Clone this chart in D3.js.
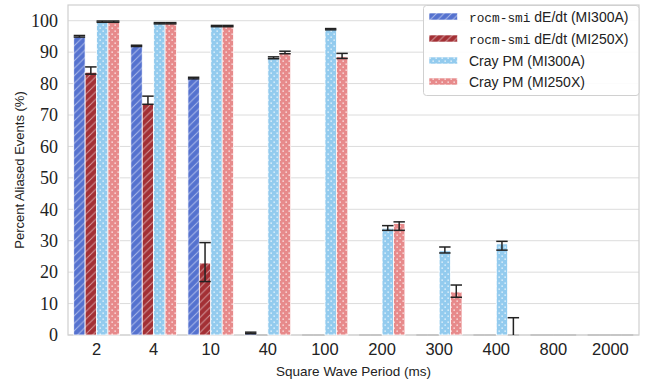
<!DOCTYPE html>
<html>
<head>
<meta charset="utf-8">
<script src="https://cdn.jsdelivr.net/npm/d3@7"></script>
<style>
  html, body { margin: 0; padding: 0; background: #fff; }
  svg { display: block; }
</style>
</head>
<body>
<svg id="chart" width="650" height="381"></svg>
<script>
// Square wave periods (ms)
const periods = ["2", "4", "10", "40", "100", "200", "300", "400", "800", "2000"];

// Mean percent of aliased events per series
const rocmMI300A = [95.0, 92.0, 81.8, 0.7, 0, 0, 0, 0, 0, 0];
const rocmMI250X = [83.6, 73.6, 22.9, 0, 0, 0, 0, 0, 0, 0];
const crayMI300A = [99.7, 99.2, 98.3, 88.2, 97.3, 34.0, 26.8, 29.0, 0, 0];
const crayMI250X = [99.7, 99.2, 98.3, 89.9, 88.6, 35.5, 13.7, 0, 0, 0];

// Error bar bounds [low, high] per series (null = no bar)
const rocmMI300AErr = [[94.8, 95.3], [91.8, 92.2], [81.5, 82.0], [0.4, 0.9], null, null, null, null, null, null];
const rocmMI250XErr = [[83.0, 85.3], [73.4, 76.0], [17.0, 29.4], null, null, null, null, null, null, null];
const crayMI300AErr = [[99.5, 99.9], [99.0, 99.4], [98.1, 98.5], [87.9, 88.5], [97.1, 97.5], [33.3, 34.8], [26.1, 28.0], [27.0, 29.8], null, null];
const crayMI250XErr = [[99.5, 99.9], [99.0, 99.4], [98.1, 98.5], [89.5, 90.3], [88.0, 89.6], [33.3, 36.0], [12.0, 15.9], [-5.5, 5.5], null, null];

const yTicks = [0, 10, 20, 30, 40, 50, 60, 70, 80, 90, 100];

const series = [
  { key: "rocmMI300A", mono: "rocm-smi", label: " dE/dt (MI300A)", values: rocmMI300A, err: rocmMI300AErr, color: "#5572cf", pattern: "hatch" },
  { key: "rocmMI250X", mono: "rocm-smi", label: " dE/dt (MI250X)", values: rocmMI250X, err: rocmMI250XErr, color: "#a33035", pattern: "hatch" },
  { key: "crayMI300A", mono: "", label: "Cray PM (MI300A)", values: crayMI300A, err: crayMI300AErr, color: "#93cbee", pattern: "dots" },
  { key: "crayMI250X", mono: "", label: "Cray PM (MI250X)", values: crayMI250X, err: crayMI250XErr, color: "#e78a8b", pattern: "dots" }
];

const svg = d3.select("#chart");
const margin = { left: 68, right: 11, top: 5, bottom: 46 };
const W = 650, H = 381;
const x0 = margin.left, x1 = W - margin.right;
const yTop = margin.top, yBot = H - margin.bottom;

const x = d3.scaleBand().domain(periods).range([x0, x1]).paddingInner(0).paddingOuter(0);
const xs = d3.scaleBand().domain(series.map(s => s.key)).range([0, x.bandwidth() * 0.8]);
const y = d3.scaleLinear().domain([0, 105]).range([yBot, yTop]);

// Fill patterns: diagonal hatching and dotted grid
const defs = svg.append("defs");
series.forEach(s => {
  const p = defs.append("pattern")
    .attr("id", "pat-" + s.key)
    .attr("patternUnits", "userSpaceOnUse");
  if (s.pattern === "hatch") {
    p.attr("width", 7.5).attr("height", 7.5);
    p.append("rect").attr("width", 7.5).attr("height", 7.5).attr("fill", s.color);
    p.append("path")
      .attr("d", "M-1,8.5 L8.5,-1 M-1,1 L1,-1 M6.5,8.5 L8.5,6.5")
      .attr("stroke", "rgba(255,255,255,0.5)")
      .attr("stroke-width", 1);
  } else {
    p.attr("width", 6).attr("height", 6);
    p.append("rect").attr("width", 6).attr("height", 6).attr("fill", s.color);
    p.append("rect").attr("x", 0.5).attr("y", 0.5).attr("width", 1.3).attr("height", 1.3).attr("fill", "rgba(255,255,255,0.9)");
    p.append("rect").attr("x", 3.5).attr("y", 3.5).attr("width", 1.3).attr("height", 1.3).attr("fill", "rgba(255,255,255,0.9)");
  }
});
defs.append("clipPath").attr("id", "plotClip")
  .append("rect").attr("x", x0).attr("y", yTop).attr("width", x1 - x0).attr("height", yBot - yTop);

// Horizontal grid lines
svg.append("g").selectAll("line").data(yTicks).join("line")
  .attr("x1", x0).attr("x2", x1)
  .attr("y1", d => y(d)).attr("y2", d => y(d))
  .attr("stroke", "#dcdcdc").attr("stroke-width", 1);

// Plot frame
svg.append("rect")
  .attr("x", x0).attr("y", yTop).attr("width", x1 - x0).attr("height", yBot - yTop)
  .attr("fill", "none").attr("stroke", "#cfcfcf").attr("stroke-width", 1.2);

// Bars
const bw = xs.bandwidth();
const gBars = svg.append("g");
series.forEach(s => {
  const g = gBars.append("g");
  const xpos = (d, i) => x(periods[i]) + x.bandwidth() * 0.1 + xs(s.key);
  g.selectAll("rect").data(s.values).join("rect")
    .filter(d => d > 0)
    .attr("x", xpos)
    .attr("y", d => y(d))
    .attr("width", bw)
    .attr("height", d => y(0) - y(d))
    .attr("fill", "url(#pat-" + s.key + ")")
    .attr("stroke", "#fff").attr("stroke-width", 0.8);
  // zero-height bars show only their outline along the baseline
  g.selectAll("line.zero").data(s.values.map((v, i) => ({ v, i })).filter(d => d.v === 0)).join("line")
    .attr("class", "zero")
    .attr("x1", d => xpos(d.v, d.i)).attr("x2", d => xpos(d.v, d.i) + bw)
    .attr("y1", y(0)).attr("y2", y(0))
    .attr("stroke", "#b8b8b8").attr("stroke-width", 1.2);
});

// Error bars
const gErr = svg.append("g").attr("clip-path", "url(#plotClip)");
series.forEach(s => {
  s.err.forEach((e, i) => {
    if (!e) return;
    const cx = x(periods[i]) + x.bandwidth() * 0.1 + xs(s.key) + bw / 2;
    const half = bw / 2;
    const g = gErr.append("g").attr("stroke", "#222").attr("stroke-width", 1.5);
    g.append("line").attr("x1", cx).attr("x2", cx).attr("y1", y(e[0])).attr("y2", y(e[1]));
    g.append("line").attr("x1", cx - half).attr("x2", cx + half).attr("y1", y(e[0])).attr("y2", y(e[0]));
    g.append("line").attr("x1", cx - half).attr("x2", cx + half).attr("y1", y(e[1])).attr("y2", y(e[1]));
  });
});

// Y axis tick labels
const yAxis = d3.axisLeft(y).tickValues(yTicks).tickSize(0).tickPadding(10);
const gy = svg.append("g").attr("transform", `translate(${x0},0)`).call(yAxis);
gy.select(".domain").remove();
gy.selectAll("text")
  .attr("font-family", "'Liberation Serif', 'DejaVu Serif', serif")
  .attr("font-size", 18).attr("fill", "#222");

// X axis tick labels
const xAxis = d3.axisBottom(x).tickSize(0).tickPadding(8);
const gx = svg.append("g").attr("transform", `translate(0,${yBot})`).call(xAxis);
gx.select(".domain").remove();
gx.selectAll("text")
  .attr("font-family", "'Liberation Sans', Arial, sans-serif")
  .attr("font-size", 16.5).attr("fill", "#222");

// Axis titles
svg.append("text")
  .attr("x", (x0 + x1) / 2).attr("y", 376)
  .attr("text-anchor", "middle")
  .attr("font-family", "'Liberation Sans', Arial, sans-serif")
  .attr("font-size", 13.5).attr("fill", "#222")
  .text("Square Wave Period (ms)");
svg.append("text")
  .attr("transform", `translate(24,${(yTop + yBot) / 2}) rotate(-90)`)
  .attr("text-anchor", "middle")
  .attr("font-family", "'Liberation Sans', Arial, sans-serif")
  .attr("font-size", 13).attr("fill", "#222")
  .text("Percent Aliased Events (%)");

// Legend
const lg = svg.append("g");
lg.append("rect")
  .attr("x", 423.5).attr("y", 5.5).attr("width", 215.5).attr("height", 90)
  .attr("rx", 3).attr("fill", "rgba(255,255,255,0.9)")
  .attr("stroke", "#d0d0d0").attr("stroke-width", 1);
const rowY = [17, 39, 61, 82];
series.forEach((s, i) => {
  const cy = rowY[i];
  lg.append("rect")
    .attr("x", 429).attr("y", cy - 4).attr("width", 28.5).attr("height", 7)
    .attr("fill", "url(#pat-" + s.key + ")")
    .attr("stroke", "#fff").attr("stroke-width", 0.6);
  const t = lg.append("text")
    .attr("x", 469).attr("y", cy + 5)
    .attr("font-family", "'Liberation Sans', Arial, sans-serif")
    .attr("font-size", 14).attr("fill", "#222");
  if (s.mono) {
    t.append("tspan")
      .attr("font-family", "'Liberation Mono', 'DejaVu Sans Mono', monospace")
      .attr("font-size", 12.8)
      .text(s.mono);
  }
  t.append("tspan").text(s.label);
});
</script>
</body>
</html>
